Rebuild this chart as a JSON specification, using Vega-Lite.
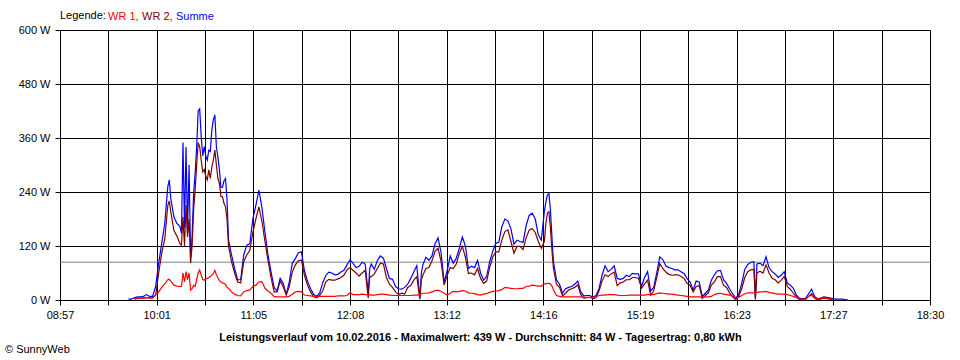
{
  "$schema": "https://vega.github.io/schema/vega-lite/v6.json",
  "width": 870,
  "height": 270,
  "autosize": {"type": "none"},
  "padding": {"left": 60, "top": 30, "right": 30, "bottom": 60},
  "background": "white",
  "config": {"font": "Liberation Sans", "view": {"stroke": null}},
  "title": {"text": "© SunnyWeb", "orient": "bottom", "anchor": "start", "frame": "group", "dx": -55, "offset": 2, "fontSize": 11, "fontWeight": "normal", "color": "black", "baseline": "top"},
  "layer": [
    {
      "data": {"values": [{"avg": 84}]},
      "mark": {"type": "rule", "color": "#808080", "strokeWidth": 1},
      "encoding": {"y": {"field": "avg", "type": "quantitative", "title": null}}
    },
    {
      "data": {
        "format": {"parse": {"t": "utc:'%H:%M'"}},
        "values": [
          {"t":"09:42","Summe":2},{"t":"09:44","Summe":2},
          {"t":"09:46","Summe":5,"WR 2":3,"WR 1":2},{"t":"09:48","Summe":7,"WR 2":4,"WR 1":3},
          {"t":"09:50","Summe":7,"WR 2":4,"WR 1":4},{"t":"09:52","Summe":8,"WR 2":4,"WR 1":4},
          {"t":"09:54","Summe":12,"WR 2":5,"WR 1":5},{"t":"09:56","Summe":8,"WR 2":5,"WR 1":4},
          {"t":"09:58","Summe":8,"WR 2":5,"WR 1":4},{"t":"10:00","Summe":30,"WR 2":10,"WR 1":12},
          {"t":"10:02","Summe":82,"WR 2":60,"WR 1":18},{"t":"10:04","Summe":126,"WR 2":104,"WR 1":28},
          {"t":"10:06","Summe":170,"WR 2":135,"WR 1":36},{"t":"10:08","Summe":252,"WR 2":210,"WR 1":45},
          {"t":"10:09","Summe":267,"WR 2":220,"WR 1":46},{"t":"10:10","Summe":225,"WR 2":195,"WR 1":42},
          {"t":"10:12","Summe":185,"WR 2":155,"WR 1":33},{"t":"10:14","Summe":170,"WR 2":142,"WR 1":31},
          {"t":"10:16","Summe":163,"WR 2":125,"WR 1":30},{"t":"10:17","Summe":148,"WR 2":122,"WR 1":30},
          {"t":"10:18","Summe":350,"WR 2":185,"WR 1":60},{"t":"10:19","Summe":160,"WR 2":120,"WR 1":40},
          {"t":"10:20","Summe":340,"WR 2":211,"WR 1":63},{"t":"10:21","Summe":150,"WR 2":140,"WR 1":45},
          {"t":"10:22","Summe":300,"WR 2":180,"WR 1":60},{"t":"10:23","Summe":96,"WR 2":82,"WR 1":22},
          {"t":"10:24","Summe":140,"WR 2":120,"WR 1":25},{"t":"10:25","Summe":237,"WR 2":200,"WR 1":33},
          {"t":"10:26","Summe":281,"WR 2":244,"WR 1":30},{"t":"10:27","Summe":340,"WR 2":300,"WR 1":45},
          {"t":"10:28","Summe":420,"WR 2":350,"WR 1":60},{"t":"10:29","Summe":425,"WR 2":340,"WR 1":67},
          {"t":"10:30","Summe":363,"WR 2":311,"WR 1":55},{"t":"10:31","Summe":320,"WR 2":285,"WR 1":46},
          {"t":"10:32","Summe":341,"WR 2":290,"WR 1":44},{"t":"10:33","Summe":320,"WR 2":275,"WR 1":47},
          {"t":"10:34","Summe":311,"WR 2":267,"WR 1":48},{"t":"10:35","Summe":333,"WR 2":289,"WR 1":50},
          {"t":"10:36","Summe":330,"WR 2":270,"WR 1":52},{"t":"10:37","Summe":378,"WR 2":295,"WR 1":56},
          {"t":"10:38","Summe":400,"WR 2":311,"WR 1":59},{"t":"10:39","Summe":411,"WR 2":333,"WR 1":66},
          {"t":"10:40","Summe":340,"WR 2":300,"WR 1":56},{"t":"10:41","Summe":318,"WR 2":270,"WR 1":50},
          {"t":"10:42","Summe":289,"WR 2":259,"WR 1":43},{"t":"10:43","Summe":250,"WR 2":230,"WR 1":40},
          {"t":"10:44","Summe":250,"WR 2":230,"WR 1":38},{"t":"10:45","Summe":265,"WR 2":215,"WR 1":37},
          {"t":"10:46","Summe":270,"WR 2":207,"WR 1":35},{"t":"10:47","Summe":222,"WR 2":180,"WR 1":28},
          {"t":"10:48","Summe":133,"WR 2":120,"WR 1":26},{"t":"10:50","Summe":100,"WR 2":85,"WR 1":18},
          {"t":"10:52","Summe":70,"WR 2":60,"WR 1":13},{"t":"10:54","Summe":45,"WR 2":40,"WR 1":10},
          {"t":"10:56","Summe":45,"WR 2":38,"WR 1":9},{"t":"10:58","Summe":100,"WR 2":85,"WR 1":18},
          {"t":"11:00","Summe":122,"WR 2":100,"WR 1":21},{"t":"11:02","Summe":125,"WR 2":110,"WR 1":22},
          {"t":"11:04","Summe":180,"WR 2":150,"WR 1":30},{"t":"11:06","Summe":210,"WR 2":180,"WR 1":33},
          {"t":"11:08","Summe":244,"WR 2":207,"WR 1":40},{"t":"11:10","Summe":205,"WR 2":175,"WR 1":41},
          {"t":"11:12","Summe":150,"WR 2":130,"WR 1":26},{"t":"11:14","Summe":100,"WR 2":88,"WR 1":20},
          {"t":"11:16","Summe":62,"WR 2":50,"WR 1":15},{"t":"11:18","Summe":28,"WR 2":18,"WR 1":8},
          {"t":"11:20","Summe":20,"WR 2":18,"WR 1":7},{"t":"11:22","Summe":48,"WR 2":42,"WR 1":7},
          {"t":"11:24","Summe":37,"WR 2":30,"WR 1":7},{"t":"11:26","Summe":12,"WR 2":11,"WR 1":7},
          {"t":"11:28","Summe":40,"WR 2":30,"WR 1":8},{"t":"11:30","Summe":82,"WR 2":62,"WR 1":13},
          {"t":"11:32","Summe":92,"WR 2":78,"WR 1":18},{"t":"11:34","Summe":105,"WR 2":87,"WR 1":19},
          {"t":"11:36","Summe":107,"WR 2":89,"WR 1":18},{"t":"11:38","Summe":65,"WR 2":55,"WR 1":11},
          {"t":"11:40","Summe":42,"WR 2":33,"WR 1":10},{"t":"11:42","Summe":25,"WR 2":18,"WR 1":9},
          {"t":"11:44","Summe":13,"WR 2":8,"WR 1":8},{"t":"11:46","Summe":8,"WR 2":5,"WR 1":7},
          {"t":"11:48","Summe":15,"WR 2":10,"WR 1":8},{"t":"11:50","Summe":38,"WR 2":20,"WR 1":8},
          {"t":"11:52","Summe":54,"WR 2":40,"WR 1":8},{"t":"11:54","Summe":62,"WR 2":46,"WR 1":8},
          {"t":"11:56","Summe":60,"WR 2":44,"WR 1":8},{"t":"11:58","Summe":56,"WR 2":44,"WR 1":8},
          {"t":"12:00","Summe":57,"WR 2":47,"WR 1":9},{"t":"12:02","Summe":62,"WR 2":50,"WR 1":9},
          {"t":"12:04","Summe":66,"WR 2":55,"WR 1":9},{"t":"12:06","Summe":78,"WR 2":67,"WR 1":10},
          {"t":"12:08","Summe":89,"WR 2":72,"WR 1":16},{"t":"12:10","Summe":82,"WR 2":66,"WR 1":12},
          {"t":"12:12","Summe":72,"WR 2":60,"WR 1":12},{"t":"12:14","Summe":75,"WR 2":53,"WR 1":12},
          {"t":"12:16","Summe":84,"WR 2":60,"WR 1":13},{"t":"12:18","Summe":80,"WR 2":66,"WR 1":12},
          {"t":"12:20","Summe":15,"WR 2":4,"WR 1":12},{"t":"12:21","Summe":70,"WR 2":52,"WR 1":12},
          {"t":"12:22","Summe":80,"WR 2":52,"WR 1":11},{"t":"12:24","Summe":68,"WR 2":58,"WR 1":11},
          {"t":"12:26","Summe":88,"WR 2":70,"WR 1":12},{"t":"12:28","Summe":98,"WR 2":82,"WR 1":13},
          {"t":"12:30","Summe":93,"WR 2":80,"WR 1":13},{"t":"12:32","Summe":70,"WR 2":50,"WR 1":12},
          {"t":"12:34","Summe":48,"WR 2":35,"WR 1":11},{"t":"12:36","Summe":46,"WR 2":28,"WR 1":10},
          {"t":"12:38","Summe":30,"WR 2":18,"WR 1":10},{"t":"12:40","Summe":25,"WR 2":12,"WR 1":10},
          {"t":"12:42","Summe":24,"WR 2":15,"WR 1":10},{"t":"12:44","Summe":28,"WR 2":13,"WR 1":10},
          {"t":"12:46","Summe":35,"WR 2":28,"WR 1":10},{"t":"12:48","Summe":48,"WR 2":32,"WR 1":10},
          {"t":"12:50","Summe":62,"WR 2":44,"WR 1":11},{"t":"12:52","Summe":76,"WR 2":52,"WR 1":11},
          {"t":"12:54","Summe":4,"WR 2":2,"WR 1":12},{"t":"12:55","Summe":60,"WR 2":45,"WR 1":14},
          {"t":"12:56","Summe":78,"WR 2":55,"WR 1":15},{"t":"12:58","Summe":95,"WR 2":70,"WR 1":15},
          {"t":"13:00","Summe":88,"WR 2":72,"WR 1":16},{"t":"13:02","Summe":98,"WR 2":87,"WR 1":18},
          {"t":"13:04","Summe":125,"WR 2":108,"WR 1":21},{"t":"13:06","Summe":138,"WR 2":115,"WR 1":22},
          {"t":"13:08","Summe":105,"WR 2":85,"WR 1":19},{"t":"13:10","Summe":40,"WR 2":33,"WR 1":15},
          {"t":"13:12","Summe":65,"WR 2":55,"WR 1":11},{"t":"13:14","Summe":98,"WR 2":72,"WR 1":15},
          {"t":"13:16","Summe":82,"WR 2":70,"WR 1":19},{"t":"13:18","Summe":93,"WR 2":80,"WR 1":18},
          {"t":"13:20","Summe":115,"WR 2":104,"WR 1":19},{"t":"13:22","Summe":140,"WR 2":119,"WR 1":21},
          {"t":"13:24","Summe":120,"WR 2":95,"WR 1":20},{"t":"13:26","Summe":70,"WR 2":59,"WR 1":16},
          {"t":"13:28","Summe":75,"WR 2":60,"WR 1":15},{"t":"13:30","Summe":72,"WR 2":56,"WR 1":14},
          {"t":"13:32","Summe":88,"WR 2":70,"WR 1":12},{"t":"13:34","Summe":60,"WR 2":48,"WR 1":11},
          {"t":"13:36","Summe":44,"WR 2":37,"WR 1":13},{"t":"13:38","Summe":52,"WR 2":42,"WR 1":14},
          {"t":"13:40","Summe":85,"WR 2":72,"WR 1":17},{"t":"13:42","Summe":108,"WR 2":95,"WR 1":19},
          {"t":"13:44","Summe":126,"WR 2":107,"WR 1":20},{"t":"13:46","Summe":128,"WR 2":107,"WR 1":21},
          {"t":"13:48","Summe":163,"WR 2":133,"WR 1":23},{"t":"13:50","Summe":180,"WR 2":152,"WR 1":28},
          {"t":"13:52","Summe":176,"WR 2":156,"WR 1":27},{"t":"13:54","Summe":158,"WR 2":130,"WR 1":26},
          {"t":"13:56","Summe":124,"WR 2":104,"WR 1":25},{"t":"13:58","Summe":133,"WR 2":119,"WR 1":25},
          {"t":"14:00","Summe":130,"WR 2":119,"WR 1":26},{"t":"14:02","Summe":128,"WR 2":112,"WR 1":26},
          {"t":"14:04","Summe":165,"WR 2":138,"WR 1":30},{"t":"14:06","Summe":188,"WR 2":155,"WR 1":31},
          {"t":"14:08","Summe":193,"WR 2":159,"WR 1":33},{"t":"14:10","Summe":180,"WR 2":150,"WR 1":32},
          {"t":"14:12","Summe":145,"WR 2":130,"WR 1":31},{"t":"14:14","Summe":133,"WR 2":115,"WR 1":31},
          {"t":"14:16","Summe":196,"WR 2":130,"WR 1":36},{"t":"14:17","Summe":218,"WR 2":170,"WR 1":36},
          {"t":"14:18","Summe":233,"WR 2":193,"WR 1":37},{"t":"14:19","Summe":237,"WR 2":196,"WR 1":37},
          {"t":"14:20","Summe":200,"WR 2":160,"WR 1":36},{"t":"14:21","Summe":140,"WR 2":110,"WR 1":31},
          {"t":"14:22","Summe":85,"WR 2":70,"WR 1":22},{"t":"14:24","Summe":45,"WR 2":35,"WR 1":10},
          {"t":"14:26","Summe":35,"WR 2":28,"WR 1":8},{"t":"14:28","Summe":15,"WR 2":9,"WR 1":7},
          {"t":"14:30","Summe":25,"WR 2":15,"WR 1":7},{"t":"14:32","Summe":28,"WR 2":22,"WR 1":7},
          {"t":"14:34","Summe":30,"WR 2":25,"WR 1":7},{"t":"14:36","Summe":35,"WR 2":28,"WR 1":7},
          {"t":"14:38","Summe":42,"WR 2":34,"WR 1":7},{"t":"14:40","Summe":18,"WR 2":12,"WR 1":7},
          {"t":"14:42","Summe":9,"WR 2":4,"WR 1":6},{"t":"14:44","Summe":10,"WR 2":5,"WR 1":6},
          {"t":"14:46","Summe":10,"WR 2":6,"WR 1":6},{"t":"14:48","Summe":6,"WR 2":3,"WR 1":6},
          {"t":"14:50","Summe":10,"WR 2":5,"WR 1":7},{"t":"14:52","Summe":25,"WR 2":20,"WR 1":10},
          {"t":"14:54","Summe":55,"WR 2":42,"WR 1":11},{"t":"14:56","Summe":76,"WR 2":56,"WR 1":11},
          {"t":"14:58","Summe":63,"WR 2":52,"WR 1":12},{"t":"15:00","Summe":68,"WR 2":58,"WR 1":12},
          {"t":"15:02","Summe":76,"WR 2":62,"WR 1":12},{"t":"15:04","Summe":48,"WR 2":32,"WR 1":11},
          {"t":"15:06","Summe":46,"WR 2":38,"WR 1":10},{"t":"15:08","Summe":48,"WR 2":40,"WR 1":10},
          {"t":"15:10","Summe":55,"WR 2":45,"WR 1":10},{"t":"15:12","Summe":52,"WR 2":45,"WR 1":11},
          {"t":"15:14","Summe":59,"WR 2":50,"WR 1":11},{"t":"15:16","Summe":58,"WR 2":50,"WR 1":11},
          {"t":"15:18","Summe":58,"WR 2":48,"WR 1":11},{"t":"15:20","Summe":30,"WR 2":26,"WR 1":11},
          {"t":"15:22","Summe":50,"WR 2":36,"WR 1":11},{"t":"15:24","Summe":63,"WR 2":44,"WR 1":12},
          {"t":"15:26","Summe":20,"WR 2":11,"WR 1":12},{"t":"15:28","Summe":28,"WR 2":20,"WR 1":12},
          {"t":"15:30","Summe":60,"WR 2":50,"WR 1":14},{"t":"15:32","Summe":96,"WR 2":81,"WR 1":16},
          {"t":"15:34","Summe":90,"WR 2":70,"WR 1":15},{"t":"15:36","Summe":76,"WR 2":62,"WR 1":14},
          {"t":"15:38","Summe":72,"WR 2":57,"WR 1":13},{"t":"15:40","Summe":70,"WR 2":55,"WR 1":13},
          {"t":"15:42","Summe":67,"WR 2":56,"WR 1":12},{"t":"15:44","Summe":67,"WR 2":56,"WR 1":11},
          {"t":"15:46","Summe":63,"WR 2":52,"WR 1":10},{"t":"15:48","Summe":59,"WR 2":48,"WR 1":9},
          {"t":"15:50","Summe":48,"WR 2":37,"WR 1":8},{"t":"15:52","Summe":40,"WR 2":33,"WR 1":7},
          {"t":"15:54","Summe":22,"WR 2":18,"WR 1":7},{"t":"15:56","Summe":42,"WR 2":30,"WR 1":7},
          {"t":"15:58","Summe":40,"WR 2":32,"WR 1":7},{"t":"16:00","Summe":8,"WR 2":3,"WR 1":6},
          {"t":"16:02","Summe":15,"WR 2":10,"WR 1":7},{"t":"16:04","Summe":22,"WR 2":16,"WR 1":7},
          {"t":"16:06","Summe":44,"WR 2":33,"WR 1":8},{"t":"16:08","Summe":56,"WR 2":40,"WR 1":12},
          {"t":"16:10","Summe":65,"WR 2":52,"WR 1":14},{"t":"16:12","Summe":66,"WR 2":52,"WR 1":15},
          {"t":"16:14","Summe":45,"WR 2":33,"WR 1":13},{"t":"16:16","Summe":37,"WR 2":28,"WR 1":12},
          {"t":"16:18","Summe":25,"WR 2":16,"WR 1":11},{"t":"16:20","Summe":14,"WR 2":7,"WR 1":8},
          {"t":"16:22","Summe":4,"WR 2":1,"WR 1":5},{"t":"16:24","Summe":12,"WR 2":8,"WR 1":6},
          {"t":"16:26","Summe":37,"WR 2":25,"WR 1":10},{"t":"16:28","Summe":68,"WR 2":50,"WR 1":14},
          {"t":"16:30","Summe":79,"WR 2":63,"WR 1":16},{"t":"16:32","Summe":84,"WR 2":67,"WR 1":16},
          {"t":"16:34","Summe":85,"WR 2":68,"WR 1":16},{"t":"16:35","Summe":4,"WR 2":1,"WR 1":16},
          {"t":"16:36","Summe":80,"WR 2":60,"WR 1":17},{"t":"16:38","Summe":82,"WR 2":64,"WR 1":18},
          {"t":"16:40","Summe":76,"WR 2":60,"WR 1":18},{"t":"16:42","Summe":96,"WR 2":78,"WR 1":19},
          {"t":"16:44","Summe":72,"WR 2":60,"WR 1":17},{"t":"16:46","Summe":63,"WR 2":48,"WR 1":16},
          {"t":"16:48","Summe":58,"WR 2":45,"WR 1":14},{"t":"16:50","Summe":50,"WR 2":38,"WR 1":13},
          {"t":"16:52","Summe":55,"WR 2":44,"WR 1":13},{"t":"16:54","Summe":63,"WR 2":52,"WR 1":13},
          {"t":"16:56","Summe":38,"WR 2":30,"WR 1":12},{"t":"16:58","Summe":33,"WR 2":24,"WR 1":10},
          {"t":"17:00","Summe":26,"WR 2":15,"WR 1":8},{"t":"17:02","Summe":11,"WR 2":7,"WR 1":5},
          {"t":"17:04","Summe":4,"WR 2":1,"WR 1":3},{"t":"17:06","Summe":3,"WR 2":1,"WR 1":2},
          {"t":"17:08","Summe":3,"WR 2":1,"WR 1":2},{"t":"17:10","Summe":14,"WR 2":8,"WR 1":8},
          {"t":"17:12","Summe":24,"WR 2":14,"WR 1":11},{"t":"17:14","Summe":8,"WR 2":4,"WR 1":4},
          {"t":"17:16","Summe":3,"WR 2":1,"WR 1":2},{"t":"17:18","Summe":4,"WR 2":2,"WR 1":3},
          {"t":"17:20","Summe":7,"WR 2":4,"WR 1":4},{"t":"17:22","Summe":6,"WR 2":3,"WR 1":4},
          {"t":"17:24","Summe":5,"WR 2":2,"WR 1":3},{"t":"17:26","Summe":3,"WR 2":1,"WR 1":2},
          {"t":"17:28","Summe":2},{"t":"17:30","Summe":2},{"t":"17:32","Summe":2},
          {"t":"17:34","Summe":1},{"t":"17:36","Summe":0}
        ]
      },
      "transform": [
        {"fold": ["Summe", "WR 2", "WR 1"], "as": ["series", "W"]},
        {"filter": "isValid(datum.W)"}
      ],
      "mark": {"type": "line", "strokeWidth": 1.2},
      "encoding": {
        "x": {
          "field": "t",
          "type": "temporal",
          "scale": {"type": "utc", "domain": [
            {"year": 1900, "month": 1, "date": 1, "hours": 8, "minutes": 57, "utc": true},
            {"year": 1900, "month": 1, "date": 1, "hours": 18, "minutes": 30, "utc": true}
          ]},
          "axis": {
            "values": [
              {"year": 1900, "month": 1, "date": 1, "hours": 8, "minutes": 57, "seconds": 0, "utc": true},
              {"year": 1900, "month": 1, "date": 1, "hours": 9, "minutes": 28, "seconds": 50, "utc": true},
              {"year": 1900, "month": 1, "date": 1, "hours": 10, "minutes": 0, "seconds": 40, "utc": true},
              {"year": 1900, "month": 1, "date": 1, "hours": 10, "minutes": 32, "seconds": 30, "utc": true},
              {"year": 1900, "month": 1, "date": 1, "hours": 11, "minutes": 4, "seconds": 20, "utc": true},
              {"year": 1900, "month": 1, "date": 1, "hours": 11, "minutes": 36, "seconds": 10, "utc": true},
              {"year": 1900, "month": 1, "date": 1, "hours": 12, "minutes": 8, "seconds": 0, "utc": true},
              {"year": 1900, "month": 1, "date": 1, "hours": 12, "minutes": 39, "seconds": 50, "utc": true},
              {"year": 1900, "month": 1, "date": 1, "hours": 13, "minutes": 11, "seconds": 40, "utc": true},
              {"year": 1900, "month": 1, "date": 1, "hours": 13, "minutes": 43, "seconds": 30, "utc": true},
              {"year": 1900, "month": 1, "date": 1, "hours": 14, "minutes": 15, "seconds": 20, "utc": true},
              {"year": 1900, "month": 1, "date": 1, "hours": 14, "minutes": 47, "seconds": 10, "utc": true},
              {"year": 1900, "month": 1, "date": 1, "hours": 15, "minutes": 19, "seconds": 0, "utc": true},
              {"year": 1900, "month": 1, "date": 1, "hours": 15, "minutes": 50, "seconds": 50, "utc": true},
              {"year": 1900, "month": 1, "date": 1, "hours": 16, "minutes": 22, "seconds": 40, "utc": true},
              {"year": 1900, "month": 1, "date": 1, "hours": 16, "minutes": 54, "seconds": 30, "utc": true},
              {"year": 1900, "month": 1, "date": 1, "hours": 17, "minutes": 26, "seconds": 20, "utc": true},
              {"year": 1900, "month": 1, "date": 1, "hours": 17, "minutes": 58, "seconds": 10, "utc": true},
              {"year": 1900, "month": 1, "date": 1, "hours": 18, "minutes": 30, "seconds": 0, "utc": true}
            ],
            "labelExpr": "round((time(datum.value) - utc(1900,0,1,8,57,0)) / 1910000) % 2 == 0 ? utcFormat(time(datum.value) + 59000, '%H:%M') : ''",
            "grid": true, "gridColor": "black", "gridOpacity": 1, "gridWidth": 1,
            "domain": false, "ticks": true, "tickColor": "black", "tickSize": 5, "tickWidth": 1,
            "labelColor": "black", "labelFontSize": 11, "labelPadding": 4,
            "labelFlush": false, "labelOverlap": false, "labelBound": false,
            "title": "Leistungsverlauf vom 10.02.2016 - Maximalwert: 439 W - Durchschnitt: 84 W - Tagesertrag: 0,80 kWh",
            "titleFontSize": 11, "titleFontWeight": "bold", "titleColor": "black",
            "titleX": 420, "titleY": 31, "titleBaseline": "top", "titleAlign": "center", "titleAnchor": null
          }
        },
        "y": {
          "field": "W",
          "type": "quantitative",
          "title": null,
          "scale": {"domain": [0, 600], "nice": false, "zero": true},
          "axis": {
            "values": [0, 120, 240, 360, 480, 600],
            "labelExpr": "datum.value + ' W'",
            "grid": true, "gridColor": "black", "gridOpacity": 1, "gridWidth": 1,
            "domain": false, "tickColor": "black", "tickSize": 5, "tickWidth": 1,
            "labelColor": "black", "labelFontSize": 11, "labelPadding": 5,
            "labelFlush": false, "labelOverlap": false, "labelBound": false
          }
        },
        "color": {
          "field": "series",
          "type": "nominal",
          "scale": {"domain": ["WR 1", "WR 2", "Summe"], "range": ["#ff0000", "#800000", "#0000ff"]},
          "legend": {
            "title": "Legende:",
            "orient": "none", "legendX": 0, "legendY": -19,
            "direction": "horizontal",
            "titleOrient": "left", "titlePadding": 3,
            "titleFontSize": 11, "titleFontWeight": "normal", "titleColor": "black",
            "labelFontSize": 11,
            "labelExpr": "datum.label == 'Summe' ? datum.label : datum.label + ','",
            "symbolSize": 0, "symbolStrokeWidth": 0, "symbolOpacity": 0,
            "labelOffset": -12, "columnPadding": 3,
            "encode": {"labels": {"update": {"fill": {"scale": "color", "field": "value"}}}}
          }
        }
      }
    }
  ]
}
